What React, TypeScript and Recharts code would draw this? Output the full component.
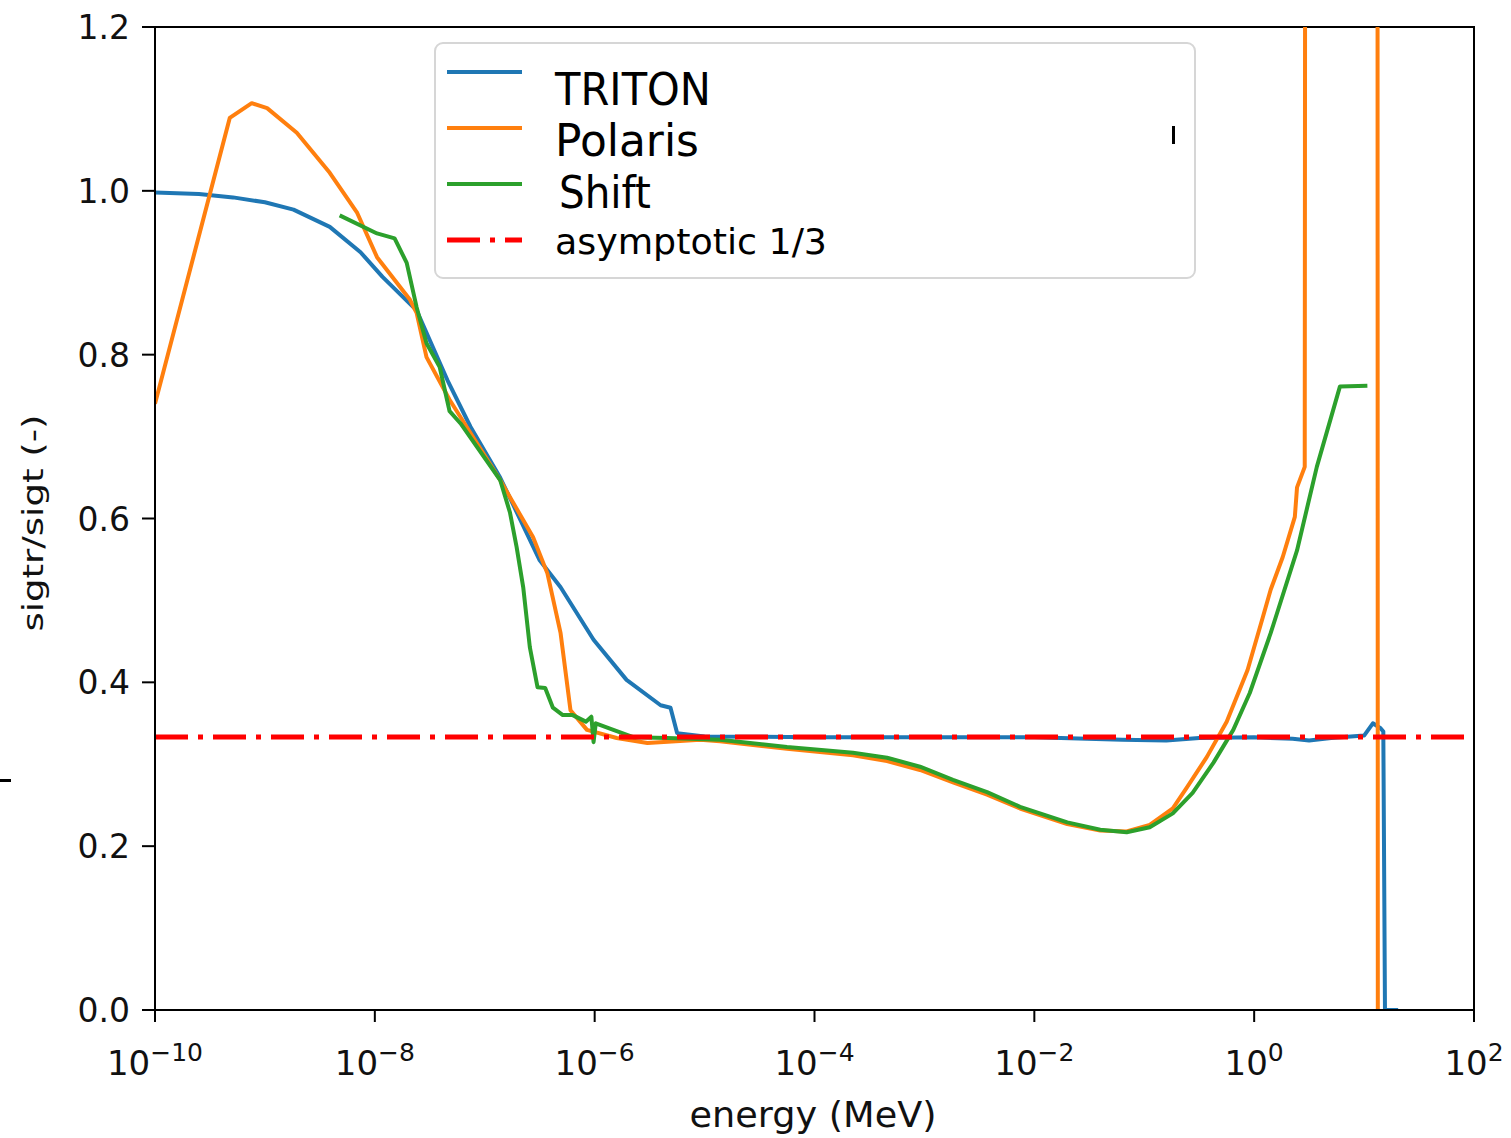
import React from 'react';
import { LineChart, Line, XAxis, YAxis, ReferenceArea, Legend } from 'recharts';

// energy is kept as log10(E / MeV)
const xTickExps = [-10, -8, -6, -4, -2, 0, 2];
const yTicks = [0, 0.2, 0.4, 0.6, 0.8, 1.0, 1.2];

const tritonLogE = [
  -10, -9.6, -9.29, -9.0, -8.74, -8.41, -8.13, -7.93, -7.62, -7.34, -7.13, -6.86, -6.5, -6.31,
  -6.01, -5.71, -5.4, -5.31, -5.25, -5.0, -4.0, -3.0, -2.0, -1.2, -0.8, -0.5, 0.0, 0.35, 0.5,
  0.7, 1.0, 1.08, 1.15, 1.175, 1.19, 1.31,
];
const tritonVal = [
  0.998, 0.996, 0.992, 0.986, 0.977, 0.956, 0.925, 0.895, 0.854, 0.769, 0.712, 0.65, 0.549, 0.516,
  0.452, 0.403, 0.372, 0.369, 0.338, 0.334, 0.333, 0.333, 0.333, 0.33, 0.329, 0.332, 0.333, 0.331, 0.329,
  0.332, 0.335, 0.35, 0.344, 0.34, 0.0, 0.0,
];

const polarisLogE = [
  -10, -9.32, -9.12, -8.98, -8.71, -8.41, -8.16, -7.98, -7.68, -7.62, -7.53, -7.32, -6.86, -6.56,
  -6.43, -6.31, -6.22, -6.07, -5.8, -5.52, -5.04, -4.86, -4.25, -3.65, -3.34, -3.04, -2.74, -2.43,
  -2.13, -1.7, -1.4, -1.16, -0.95, -0.74, -0.61, -0.43, -0.25, -0.06, 0.08, 0.15, 0.26, 0.37, 0.39,
  0.46, 0.47, 1.12, 1.125,
];
const polarisVal = [
  0.74, 1.089, 1.107, 1.101, 1.071, 1.022, 0.973, 0.919, 0.867, 0.851, 0.797, 0.745, 0.647, 0.577,
  0.533, 0.46, 0.366, 0.342, 0.332, 0.326, 0.33, 0.328, 0.319, 0.311, 0.304, 0.293, 0.278, 0.263,
  0.246, 0.227, 0.219, 0.218, 0.226, 0.246, 0.272, 0.309, 0.352, 0.415, 0.48, 0.513, 0.553, 0.602, 0.638,
  0.663, 2.5, 2.5, 0.0,
];

const shiftLogE = [
  -8.32, -7.98, -7.82, -7.71, -7.62, -7.53, -7.41, -7.32, -7.22, -6.86, -6.77, -6.71, -6.65, -6.59,
  -6.52, -6.45, -6.38, -6.29, -6.2, -6.08, -6.03, -6.01, -5.99, -5.83, -5.65, -5.34, -4.86, -4.25,
  -3.65, -3.34, -3.04, -2.74, -2.43, -2.13, -1.7, -1.4, -1.16, -0.95, -0.74, -0.56, -0.37, -0.19,
  -0.04, 0.15, 0.39, 0.57, 0.78, 1.03,
];
const shiftVal = [
  0.97, 0.948, 0.942, 0.912, 0.858, 0.814, 0.785, 0.731, 0.716, 0.647, 0.607, 0.565, 0.516, 0.443,
  0.394, 0.393, 0.369, 0.36, 0.36, 0.352, 0.358, 0.327, 0.35, 0.342, 0.333, 0.332, 0.33, 0.321,
  0.314, 0.308, 0.297, 0.281, 0.266, 0.248, 0.229, 0.22, 0.217, 0.223, 0.24, 0.265, 0.302, 0.342,
  0.387, 0.46, 0.561, 0.663, 0.761, 0.762,
];

const asymLogE = [-10, 2];
const asymVal = [1 / 3, 1 / 3];

const toRows = (logE: number[], vals: number[]) =>
  logE.map((le, i) => ({ e: Math.pow(10, le), v: vals[i] }));

const DEJAVU = '"DejaVu Sans", sans-serif';

const series = [
  { name: 'TRITON', color: '#1f77b4', data: toRows(tritonLogE, tritonVal), size: 45, textX: 121, textLen: 156, dash: undefined, width: 4 },
  { name: 'Polaris', color: '#ff7f0e', data: toRows(polarisLogE, polarisVal), size: 45, textX: 121, textLen: 144, dash: undefined, width: 4 },
  { name: 'Shift', color: '#2ca02c', data: toRows(shiftLogE, shiftVal), size: 45, textX: 125, textLen: 92, dash: undefined, width: 4 },
  { name: 'asymptotic 1/3', color: '#ff0000', data: toRows(asymLogE, asymVal), size: 35, textX: 121, textLen: 272, dash: '33 10 5 10', width: 5 },
];

const XTick = ({ x, y, payload }: any) => {
  const exp = Math.round(Math.log10(payload.value));
  const sup = exp < 0 ? `\u2212${-exp}` : `${exp}`;
  return (
    <text x={x} y={y + 53} textAnchor="middle" fontFamily={DEJAVU} fill="#111">
      <tspan fontSize={34}>10</tspan>
      <tspan fontSize={25} dy={-14}>{sup}</tspan>
    </text>
  );
};

const YTick = ({ x, y, payload }: any) => (
  <text x={x} y={y + 12} textAnchor="end" fontFamily={DEJAVU} fontSize={33} fill="#111">
    {payload.value.toFixed(1)}
  </text>
);

const LegendBox = () => {
  const lineY = [30, 86, 142, 198];
  const baseY = [63, 114, 166, 212];
  return (
    <svg width={762} height={237} style={{ display: 'block' }}>
      <rect x={1} y={1} width={760} height={235} rx={8} fill="#fff" fillOpacity={0.85} stroke="#d6d6d6" strokeWidth={2} />
      {series.map((s, i) => (
        <g key={s.name}>
          <line x1={13} x2={88} y1={lineY[i]} y2={lineY[i]} stroke={s.color} strokeWidth={s.width} strokeDasharray={s.dash} />
          <text
            x={s.textX}
            y={baseY[i]}
            fontFamily={DEJAVU}
            fontSize={s.size}
            fill="#000"
            textLength={s.textLen}
            lengthAdjust="spacingAndGlyphs"
          >
            {s.name}
          </text>
        </g>
      ))}
      <rect x={738} y={84} width={3} height={18} fill="#000" />
    </svg>
  );
};

export default function App() {
  return (
    <div style={{ position: 'absolute', left: 0, top: 0, width: 1511, height: 1138, background: '#fff' }}>
      <div style={{ position: 'absolute', left: 0, top: 779, width: 11, height: 3, background: '#000' }} />
      <LineChart width={1511} height={1138} margin={{ top: 27, right: 37, bottom: 0, left: 0 }}>
        <XAxis
          type="number"
          dataKey="e"
          scale="log"
          domain={[1e-10, 100]}
          allowDataOverflow
          ticks={xTickExps.map((p) => Math.pow(10, p))}
          tick={<XTick />}
          tickSize={12}
          tickMargin={0}
          height={128}
          axisLine={{ stroke: '#000', strokeWidth: 2 }}
          tickLine={{ stroke: '#000', strokeWidth: 2 }}
          label={{
            value: 'energy (MeV)',
            content: () => (
              <text x={813} y={1127} textAnchor="middle" fontFamily={DEJAVU} fontSize={35} fill="#111" textLength={247} lengthAdjust="spacingAndGlyphs">
                energy (MeV)
              </text>
            ),
          }}
        />
        <YAxis
          type="number"
          domain={[0, 1.2]}
          allowDataOverflow
          ticks={yTicks}
          tick={<YTick />}
          tickSize={13}
          tickMargin={12}
          width={155}
          axisLine={{ stroke: '#000', strokeWidth: 2 }}
          tickLine={{ stroke: '#000', strokeWidth: 2 }}
          label={{
            value: 'sigtr/sigt (-)',
            content: () => (
              <text transform="translate(43,523) rotate(-90)" textAnchor="middle" fontFamily={DEJAVU} fontSize={28} fill="#111" textLength={217} lengthAdjust="spacingAndGlyphs">
                sigtr/sigt (-)
              </text>
            ),
          }}
        />
        {series.map((s) => (
          <Line
            key={s.name}
            data={s.data}
            dataKey="v"
            name={s.name}
            type="linear"
            stroke={s.color}
            strokeWidth={s.width}
            strokeDasharray={s.dash}
            strokeLinejoin="round"
            dot={false}
            activeDot={false}
            isAnimationActive={false}
          />
        ))}
        <ReferenceArea x1={1e-10} x2={100} y1={0} y2={1.2} fill="none" stroke="#000" strokeWidth={2} ifOverflow="visible" />
        <Legend
          layout="vertical"
          align="center"
          verticalAlign="middle"
          content={<LegendBox />}
          wrapperStyle={{ left: 434, top: 42, width: 762, height: 237 }}
        />
      </LineChart>
    </div>
  );
}
